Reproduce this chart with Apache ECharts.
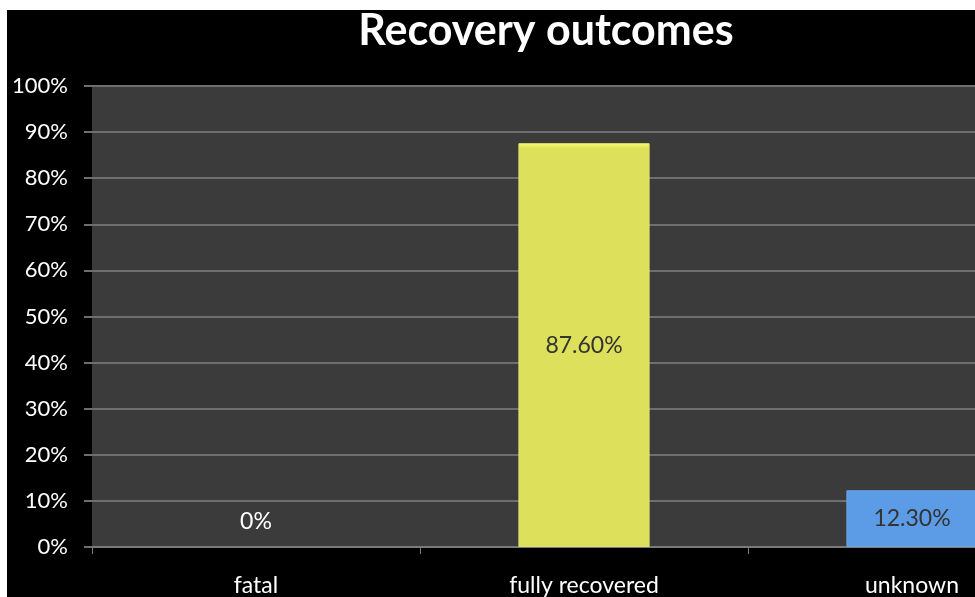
<!DOCTYPE html>
<html>
<head>
<meta charset="utf-8">
<script src="https://cdn.jsdelivr.net/npm/echarts@6/dist/echarts.min.js"></script>
<style>
html,body{margin:0;padding:0;background:#fff;width:975px;height:597px;overflow:hidden;position:relative;}
#c{position:absolute;left:7px;top:10px;width:1069px;height:587px;background:#000;}
</style>
</head>
<body>
<div id="c"></div>
<script>
const categories = ['fatal', 'fully recovered', 'unknown'];
const values = [0, 87.6, 12.3];
const valueLabels = ['0%', '87.60%', '12.30%'];
const barColors = ['#dde05a', '#dde05a', '#5c9be6'];
const yTicks = [0, 10, 20, 30, 40, 50, 60, 70, 80, 90, 100];

const chart = echarts.init(document.getElementById('c'), null, {renderer: 'canvas'});
const font = 'Lato, "Open Sans", sans-serif';

const data = values.map((v, i) => {
  const item = {
    value: v,
    itemStyle: {
      color: {
        type: 'linear', x: 0, y: 0, x2: 0, y2: 1,
        colorStops: [
          {offset: 0, color: echarts.color.lift(barColors[i], -0.25)},
          {offset: 0.012, color: barColors[i]},
          {offset: 1, color: barColors[i]}
        ]
      },
      borderColor: echarts.color.lift(barColors[i], 0.12),
      borderWidth: 1
    },
    label: {formatter: valueLabels[i]}
  };
  if (v === 0) {
    item.itemStyle = {color: 'transparent', borderWidth: 0};
    item.label = {formatter: valueLabels[i], position: 'top', distance: 14, color: '#ffffff'};
  }
  return item;
});

chart.setOption({
  backgroundColor: '#000',
  animation: false,
  title: {
    text: 'Recovery outcomes',
    left: 534,
    top: -5,
    textAlign: 'center',
    textStyle: {color: '#fff', fontSize: 43, fontWeight: 'bold', fontFamily: font}
  },
  grid: {
    left: 85, top: 76, right: 0, bottom: 49,
    show: true, backgroundColor: '#3b3b3b', borderWidth: 0
  },
  xAxis: {
    type: 'category',
    data: categories,
    axisLine: {show: true, lineStyle: {color: '#7a7a7a', width: 2}},
    axisTick: {show: true, alignWithLabel: false, length: 7, lineStyle: {color: '#7a7a7a'}},
    axisLabel: {color: '#fff', fontSize: 23, fontFamily: font, margin: 27}
  },
  yAxis: {
    type: 'value',
    min: 0, max: 100, interval: 10,
    axisLine: {show: false},
    axisTick: {show: true, length: 8, lineStyle: {color: '#6e6e6e', width: 2}},
    splitLine: {show: true, lineStyle: {color: '#6e6e6e', width: 2}},
    axisLabel: {
      color: '#fff', fontSize: 22, fontFamily: font, margin: 24,
      formatter: v => yTicks.includes(v) ? v + '%' : ''
    }
  },
  series: [{
    type: 'bar',
    data: data,
    barWidth: '40%',
    label: {
      show: true, position: 'inside', color: '#333', fontSize: 23, fontFamily: font
    }
  }]
});
</script>
</body>
</html>
